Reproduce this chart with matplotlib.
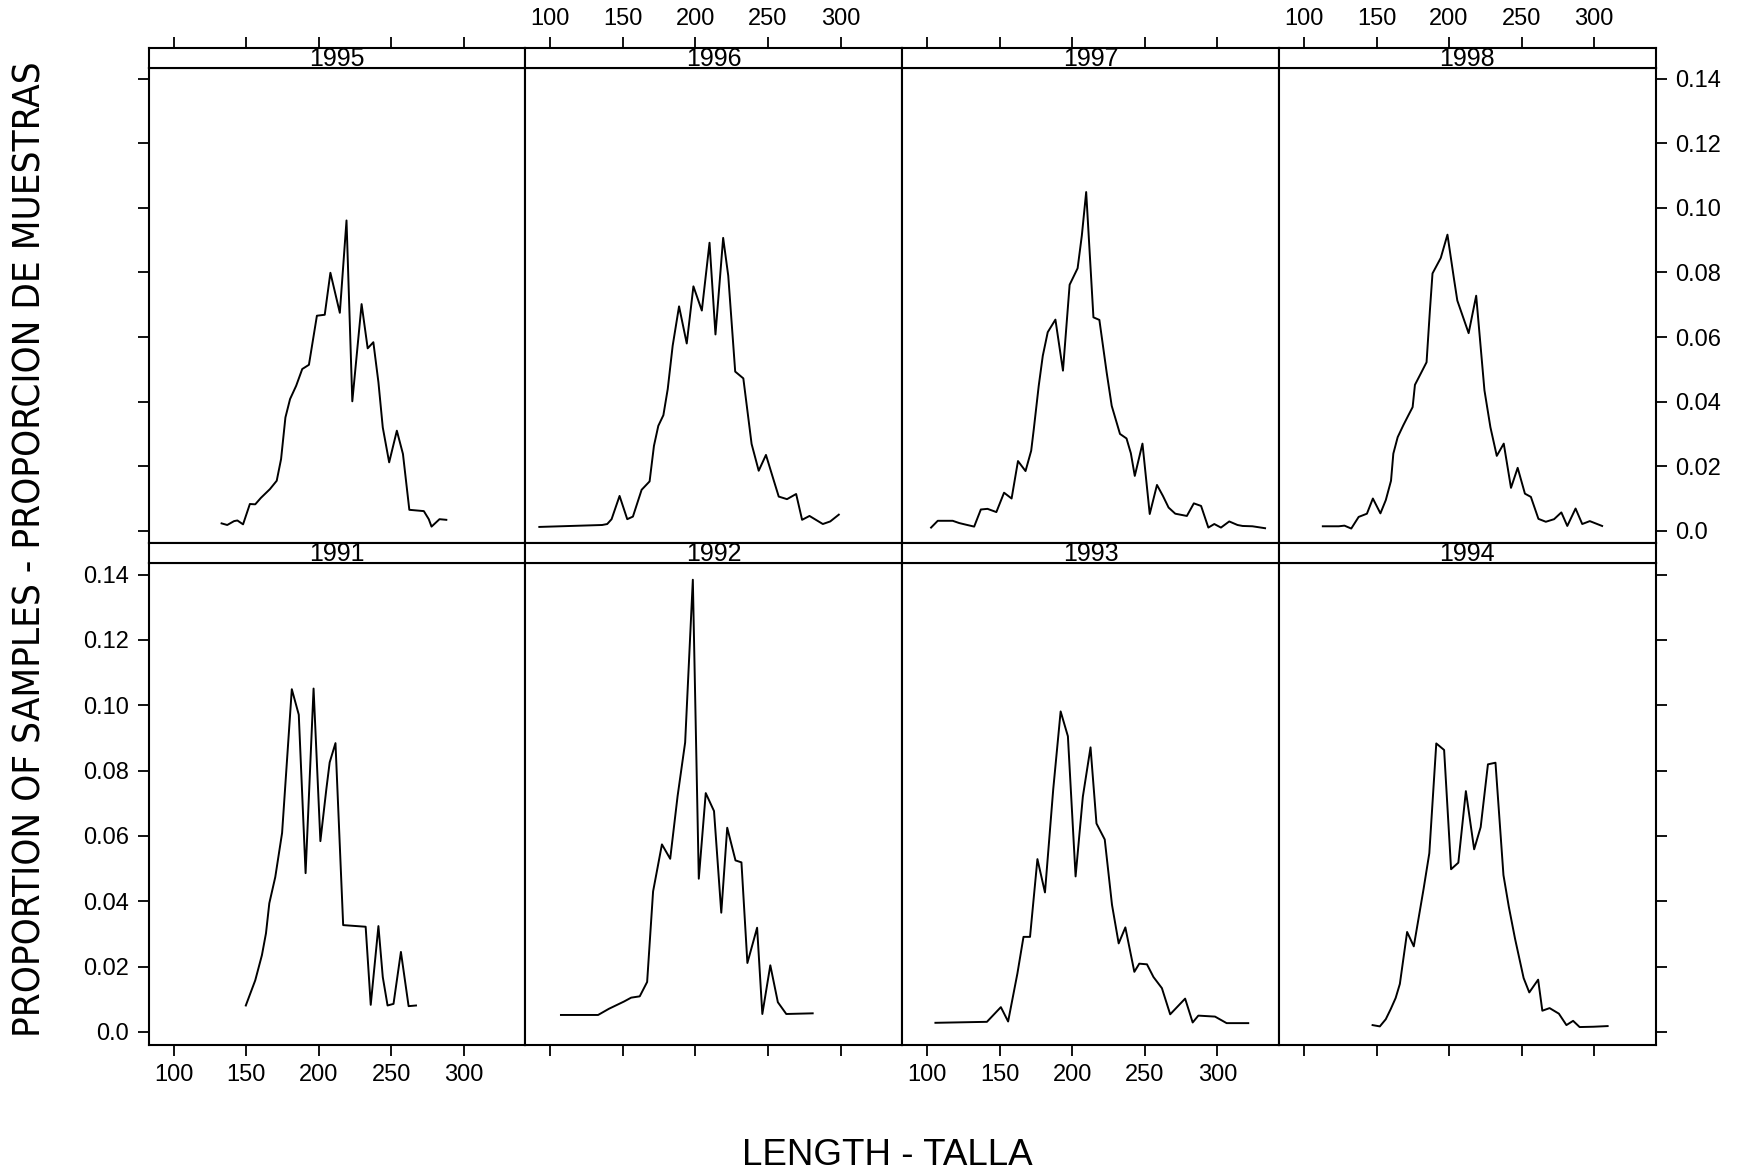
import matplotlib
matplotlib.use("Agg")
import matplotlib.pyplot as plt
from matplotlib import font_manager

plt.rcParams['font.family'] = ['Liberation Sans', 'DejaVu Sans']

# narrow face for the long y label, if one is installed
narrow = None
for f in font_manager.fontManager.ttflist:
    if ("Narrow" in f.name or "Condensed" in f.name or f.stretch in ("condensed", "semi-condensed")) \
            and f.weight in (400, "normal", "regular") and f.style == "normal":
        narrow = f.fname
        break

# length (mm) and proportion of samples
len_1991 = [149.8, 156.3, 160.9, 163.7, 166.0, 170.1, 174.8, 181.5, 186.3, 191.0, 196.5, 201.2, 205.3,
            207.6, 211.6, 216.9, 232.4, 235.9, 241.2, 244.2, 247.5, 251.6, 256.7, 262.0, 267.1]
prop_1991 = [0.0081, 0.0158, 0.0235, 0.0302, 0.0394, 0.0474, 0.0609, 0.1049, 0.0971, 0.0486, 0.1051, 0.0584,
             0.0743, 0.0825, 0.0884, 0.0327, 0.0322, 0.0083, 0.0324, 0.0168, 0.0081, 0.0086, 0.0245, 0.0079, 0.0081]

len_1992 = [107.3, 132.9, 140.4, 150.7, 155.7, 161.6, 166.7, 170.8, 176.9, 182.6, 187.7, 192.9, 198.2, 202.3,
            207.1, 212.8, 217.8, 221.9, 227.6, 231.7, 235.8, 242.5, 246.1, 251.6, 256.8, 262.6, 280.8]
prop_1992 = [0.0052, 0.0052, 0.0071, 0.0093, 0.0105, 0.0109, 0.0153, 0.0430, 0.0574, 0.0530, 0.0722, 0.0886,
             0.1384, 0.0469, 0.0731, 0.0676, 0.0365, 0.0625, 0.0525, 0.0519, 0.0211, 0.0319, 0.0055, 0.0204,
             0.0091, 0.0055, 0.0057]

len_1993 = [105.7, 141.2, 150.8, 155.8, 162.2, 166.4, 170.9, 176.0, 181.2, 186.9, 192.0, 197.0, 202.3, 207.3,
            212.6, 216.7, 222.4, 227.4, 232.0, 236.6, 242.8, 246.2, 251.5, 256.0, 261.8, 267.5, 277.8, 283.0,
            286.9, 298.4, 306.4, 321.3]
prop_1993 = [0.0028, 0.0031, 0.0076, 0.0032, 0.0179, 0.0291, 0.0291, 0.0529, 0.0427, 0.0743, 0.0981, 0.0905,
             0.0476, 0.0720, 0.0871, 0.0638, 0.0589, 0.0389, 0.0271, 0.0320, 0.0184, 0.0209, 0.0207, 0.0168,
             0.0134, 0.0054, 0.0102, 0.0029, 0.0050, 0.0047, 0.0027, 0.0027]

len_1994 = [147.3, 152.3, 156.4, 159.8, 163.2, 166.1, 171.1, 175.7, 182.5, 186.4, 191.2, 196.6, 201.4, 206.4,
            211.6, 217.3, 221.8, 226.8, 232.0, 237.5, 241.2, 245.5, 251.4, 255.3, 261.4, 264.3, 269.3, 275.7,
            280.9, 285.5, 290.0, 299.6, 309.3]
prop_1994 = [0.0021, 0.0017, 0.0039, 0.0070, 0.0104, 0.0147, 0.0306, 0.0262, 0.0439, 0.0547, 0.0883, 0.0863,
             0.0498, 0.0518, 0.0737, 0.0559, 0.0627, 0.0819, 0.0824, 0.0480, 0.0383, 0.0285, 0.0165, 0.0121,
             0.0160, 0.0065, 0.0073, 0.0056, 0.0021, 0.0034, 0.0015, 0.0016, 0.0018]

len_1995 = [133.1, 137.0, 141.7, 144.0, 147.9, 152.6, 156.3, 160.2, 166.4, 171.1, 174.1, 177.1, 180.3, 184.5,
            188.7, 193.3, 198.8, 204.2, 208.1, 214.6, 219.2, 223.2, 229.6, 233.8, 237.7, 241.2, 244.2, 248.6,
            253.9, 258.1, 262.5, 272.5, 275.9, 277.8, 283.3, 288.0]
prop_1995 = [0.0023, 0.0018, 0.0030, 0.0032, 0.0020, 0.0083, 0.0082, 0.0102, 0.0129, 0.0155, 0.0222, 0.0351,
             0.0408, 0.0449, 0.0501, 0.0514, 0.0666, 0.0669, 0.0799, 0.0675, 0.0961, 0.0401, 0.0702, 0.0565,
             0.0584, 0.0460, 0.0320, 0.0212, 0.0310, 0.0238, 0.0065, 0.0061, 0.0036, 0.0013, 0.0036, 0.0034]

len_1996 = [92.4, 135.7, 139.2, 142.2, 147.7, 153.0, 156.9, 162.9, 168.4, 171.4, 174.4, 177.9, 180.9, 184.3,
            188.7, 194.0, 198.6, 204.4, 209.7, 213.8, 219.1, 222.6, 227.4, 233.0, 238.7, 243.6, 248.6, 253.7,
            257.4, 263.1, 269.4, 273.5, 278.6, 287.8, 292.9, 298.8]
prop_1996 = [0.0012, 0.0018, 0.0021, 0.0036, 0.0108, 0.0036, 0.0044, 0.0127, 0.0153, 0.0263, 0.0325, 0.0358,
             0.0439, 0.0573, 0.0695, 0.0580, 0.0757, 0.0682, 0.0892, 0.0608, 0.0907, 0.0790, 0.0493, 0.0472,
             0.0269, 0.0186, 0.0235, 0.0160, 0.0106, 0.0098, 0.0114, 0.0034, 0.0046, 0.0021, 0.0029, 0.0050]

len_1997 = [102.7, 107.3, 117.6, 122.1, 126.7, 132.4, 137.0, 141.6, 147.7, 153.0, 158.2, 162.6, 167.8, 171.7,
            173.5, 176.9, 179.7, 183.1, 188.4, 193.6, 198.2, 203.7, 206.6, 209.6, 214.6, 218.7, 223.7, 227.2,
            232.9, 237.4, 240.4, 243.1, 248.4, 253.4, 258.4, 262.5, 266.4, 271.0, 279.0, 283.8, 288.8, 293.8,
            297.9, 302.5, 308.2, 313.9, 317.4, 324.2, 332.9]
prop_1997 = [0.0010, 0.0031, 0.0031, 0.0024, 0.0019, 0.0013, 0.0066, 0.0068, 0.0058, 0.0118, 0.0100, 0.0216,
             0.0185, 0.0248, 0.0315, 0.0449, 0.0542, 0.0615, 0.0654, 0.0496, 0.0762, 0.0813, 0.0914, 0.1049,
             0.0661, 0.0653, 0.0491, 0.0387, 0.0300, 0.0286, 0.0240, 0.0170, 0.0270, 0.0052, 0.0142, 0.0108,
             0.0072, 0.0053, 0.0046, 0.0085, 0.0077, 0.0010, 0.0021, 0.0010, 0.0029, 0.0018, 0.0015, 0.0014,
             0.0008]

len_1998 = [113.0, 124.0, 127.9, 132.6, 137.7, 143.4, 147.5, 152.7, 156.4, 160.0, 161.6, 164.6, 168.5, 171.9,
            174.9, 176.5, 180.4, 184.5, 186.8, 188.6, 194.3, 198.9, 203.4, 205.7, 213.5, 218.7, 221.5, 224.4,
            228.5, 232.9, 237.7, 242.7, 247.3, 252.3, 256.4, 261.6, 266.7, 272.4, 277.4, 281.5, 287.2, 291.8,
            297.0, 305.5]
prop_1998 = [0.0014, 0.0014, 0.0016, 0.0007, 0.0043, 0.0053, 0.0100, 0.0054, 0.0095, 0.0155, 0.0239, 0.0290,
             0.0327, 0.0357, 0.0383, 0.0452, 0.0486, 0.0522, 0.0682, 0.0797, 0.0845, 0.0917, 0.0780, 0.0713,
             0.0612, 0.0728, 0.0584, 0.0435, 0.0321, 0.0232, 0.0270, 0.0133, 0.0195, 0.0115, 0.0105, 0.0037,
             0.0028, 0.0036, 0.0057, 0.0015, 0.0069, 0.0021, 0.0030, 0.0015]

# panel order: top row then bottom row
panels = [["1995", len_1995, prop_1995], ["1996", len_1996, prop_1996],
          ["1997", len_1997, prop_1997], ["1998", len_1998, prop_1998],
          ["1991", len_1991, prop_1991], ["1992", len_1992, prop_1992],
          ["1993", len_1993, prop_1993], ["1994", len_1994, prop_1994]]

x_ticks = [100, 150, 200, 250, 300]
y_ticks = [0.0, 0.02, 0.04, 0.06, 0.08, 0.10, 0.12, 0.14]
y_tick_labels = ["0.0", "0.02", "0.04", "0.06", "0.08", "0.10", "0.12", "0.14"]

W, H = 1739, 1176
fig = plt.figure(figsize=(W / 100, H / 100), dpi=100)

left_px, right_px = 148.6, 1655.8
rows_px = [(47.7, 543.4), (543.4, 1044.7)]
strip_h = 20
col_w = (right_px - left_px) / 4
xlim = (82.8, 342.5)
ylim = (-0.0039, 0.1434)
lw_frame = 1.5
tick_fs = 17

for i, (year, xs, ys) in enumerate(panels):
    r, c = divmod(i, 4)
    top, bot = rows_px[r]
    x0 = left_px + c * col_w
    ax = fig.add_axes([x0 / W, 1 - bot / H, col_w / W, (bot - top - strip_h) / H])
    st = fig.add_axes([x0 / W, 1 - (top + strip_h) / H, col_w / W, strip_h / H])

    ax.plot(xs, ys, color="black", lw=1.4)
    ax.set_xlim(*xlim)
    ax.set_ylim(*ylim)
    ax.set_xticks(x_ticks)
    ax.set_yticks(y_ticks, y_tick_labels)
    ax.tick_params(direction="out", length=8, width=1.3, labelsize=tick_fs, pad=6)

    st.set_xlim(*xlim)
    st.set_ylim(0, 1)
    st.set_xticks(x_ticks)
    st.set_yticks([])
    st.text(0.5, 0.45, year, transform=st.transAxes, ha="center", va="center", fontsize=18)
    st.tick_params(direction="out", length=8, width=1.3, labelsize=tick_fs, pad=5)

    for a in (ax, st):
        for s in a.spines.values():
            s.set_linewidth(lw_frame)

    if r == 0:
        ax.tick_params(bottom=False, labelbottom=False)
        st.tick_params(top=True, labeltop=(c in (1, 3)), bottom=False, labelbottom=False)
    else:
        ax.tick_params(bottom=True, labelbottom=(c in (0, 2)))
        st.tick_params(bottom=False, labelbottom=False)

    ax.tick_params(left=(c == 0), labelleft=(c == 0 and r == 1),
                   right=(c == 3), labelright=(c == 3 and r == 0))

fig.text(887 / W, 1 - 1165 / H, "LENGTH - TALLA", ha="center", va="baseline", fontsize=26.5)

ylab_kw = dict(ha="center", va="center", rotation=90, fontsize=30)
if narrow:
    ylab_kw["fontproperties"] = font_manager.FontProperties(fname=narrow, size=30)
ylab = fig.text(31 / W, 1 - 549 / H, "PROPORTION OF SAMPLES - PROPORCION DE MUESTRAS", **ylab_kw)

# shrink the y label until it spans the same height as in the original
fig.canvas.draw()
span = ylab.get_window_extent().height
ylab.set_fontsize(30 * 976 / span)

fig.savefig("out.png", dpi=100)
